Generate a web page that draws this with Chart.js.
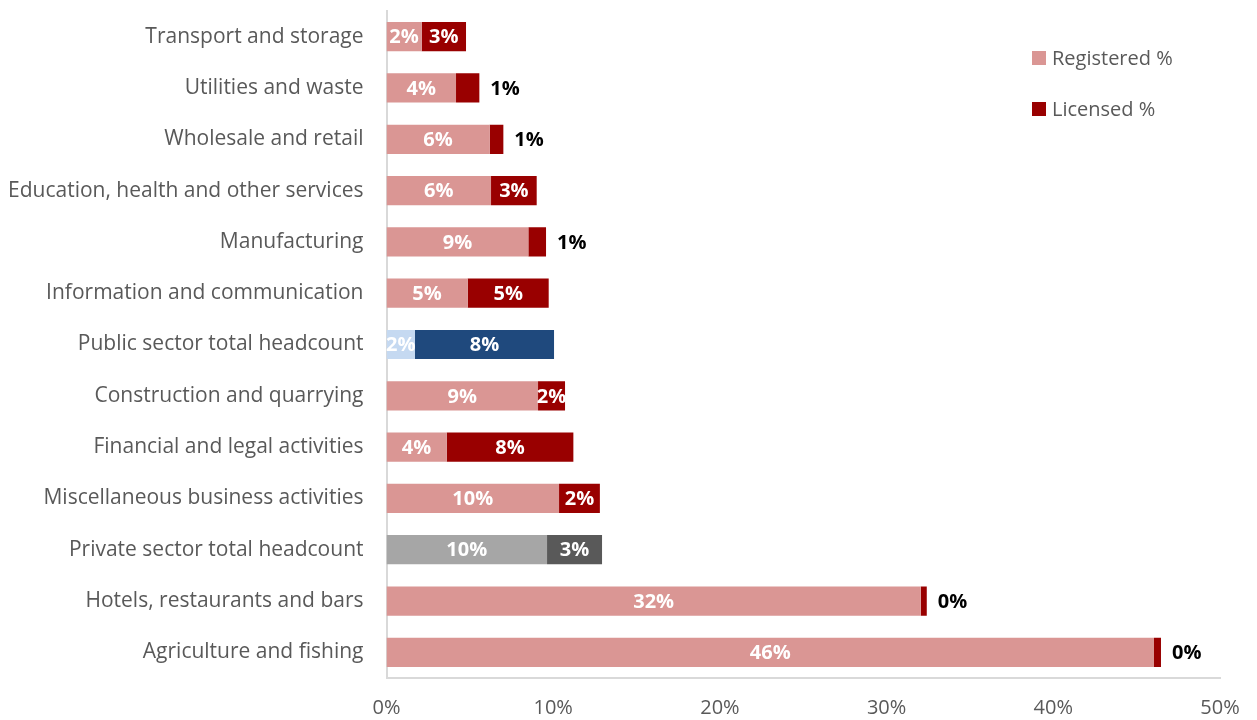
<!DOCTYPE html>
<html>
<head>
<meta charset="utf-8">
<title>Registered and licensed share by sector</title>
<script src="https://cdn.jsdelivr.net/npm/chart.js@4/dist/chart.umd.min.js"></script>
<style>
  html, body { margin: 0; padding: 0; background: #ffffff; }
  #wrap { width: 1257px; height: 720px; position: relative; }
</style>
</head>
<body>
<div id="wrap"><canvas id="chart" width="1257" height="720"></canvas></div>
<script>
// Sectors, top to bottom
const categories = [
  'Transport and storage',
  'Utilities and waste',
  'Wholesale and retail',
  'Education, health and other services',
  'Manufacturing',
  'Information and communication',
  'Public sector total headcount',
  'Construction and quarrying',
  'Financial and legal activities',
  'Miscellaneous business activities',
  'Private sector total headcount',
  'Hotels, restaurants and bars',
  'Agriculture and fishing'
];

// Share of workers (%)
const registeredPct = [2.11, 4.17, 6.19, 6.27, 8.51, 4.87, 1.71, 9.09, 3.61, 10.35, 9.63, 32.05, 46.04];
const licensedPct   = [2.66, 1.40, 0.82, 2.74, 1.06, 4.86, 8.34, 1.62, 7.60, 2.45, 3.30, 0.36, 0.42];

// Axis ticks (%)
const xTicks = [0, 10, 20, 30, 40, 50];

const FONT = '"Open Sans", Lato, sans-serif';
const TEXT_GREY = '#595959';

// Sector colours; the two headcount totals get their own palettes
const regColors = categories.map(c =>
  c.startsWith('Public') ? '#C5D9F1' : c.startsWith('Private') ? '#A6A6A6' : '#DA9694');
const licColors = categories.map(c =>
  c.startsWith('Public') ? '#1F497D' : c.startsWith('Private') ? '#595959' : '#990000');

// Percentage labels on each segment: white inside, or black just past the bar end when the segment is too thin
const segmentLabels = {
  id: 'segmentLabels',
  afterDatasetsDraw(chart) {
    const ctx = chart.ctx;
    ctx.save();
    ctx.font = 'bold 20px ' + FONT;
    ctx.textBaseline = 'middle';
    chart.data.datasets.forEach((ds, di) => {
      const meta = chart.getDatasetMeta(di);
      meta.data.forEach((bar, i) => {
        const v = ds.data[i];
        const txt = Math.round(v) + '%';
        const inside = di === 0 || v >= 1.5;
        if (inside) {
          ctx.fillStyle = '#ffffff';
          ctx.textAlign = 'center';
          ctx.fillText(txt, (bar.x + bar.base) / 2, bar.y + 1);
        } else {
          ctx.fillStyle = '#000000';
          ctx.textAlign = 'left';
          ctx.fillText(txt, bar.x + 11, bar.y + 1);
        }
      });
    });
    ctx.restore();
  }
};

// Legend drawn as a vertical list in the upper right of the plot
const sideLegend = {
  id: 'sideLegend',
  afterDraw(chart) {
    const ctx = chart.ctx;
    ctx.save();
    ctx.font = '20px ' + FONT;
    ctx.textBaseline = 'middle';
    ctx.textAlign = 'left';
    const items = [
      { label: chart.data.datasets[0].label, color: '#DA9694' },
      { label: chart.data.datasets[1].label, color: '#990000' }
    ];
    items.forEach((it, k) => {
      const cy = 58 + k * 51;
      ctx.fillStyle = it.color;
      ctx.fillRect(1032, cy - 7, 14, 14);
      ctx.fillStyle = TEXT_GREY;
      ctx.fillText(it.label, 1052, cy + 1);
    });
    ctx.restore();
  }
};

new Chart(document.getElementById('chart'), {
  type: 'bar',
  data: {
    labels: categories,
    datasets: [
      { label: 'Registered %', data: registeredPct, backgroundColor: regColors,
        borderWidth: 0, barPercentage: 0.57, categoryPercentage: 1 },
      { label: 'Licensed %', data: licensedPct, backgroundColor: licColors,
        borderWidth: 0, barPercentage: 0.57, categoryPercentage: 1 }
    ]
  },
  options: {
    indexAxis: 'y',
    responsive: false,
    animation: false,
    layout: { padding: { top: 11, right: 37, bottom: 0, left: 0 } },
    plugins: {
      legend: { display: false },
      tooltip: { enabled: false }
    },
    scales: {
      x: {
        stacked: true,
        min: 0,
        max: 50,
        afterBuildTicks(scale) { scale.ticks = xTicks.map(v => ({ value: v })); },
        afterFit(scale) { scale.height = 42; scale.paddingLeft = 0; scale.paddingRight = 0; },
        grid: { display: false, drawTicks: false },
        border: { display: true, color: '#D9D9D9', width: 2 },
        ticks: {
          padding: 18,
          color: TEXT_GREY,
          font: { family: FONT, size: 20 },
          maxRotation: 0,
          callback: v => v + '%'
        }
      },
      y: {
        stacked: true,
        afterFit(scale) { scale.width = 386.5; scale.paddingTop = 0; scale.paddingBottom = 0; },
        grid: { display: false, drawTicks: false },
        border: { display: true, color: '#D9D9D9', width: 2 },
        ticks: {
          padding: 23,
          color: TEXT_GREY,
          font: { family: FONT, size: 21 }
        }
      }
    }
  },
  plugins: [segmentLabels, sideLegend]
});
</script>
</body>
</html>
